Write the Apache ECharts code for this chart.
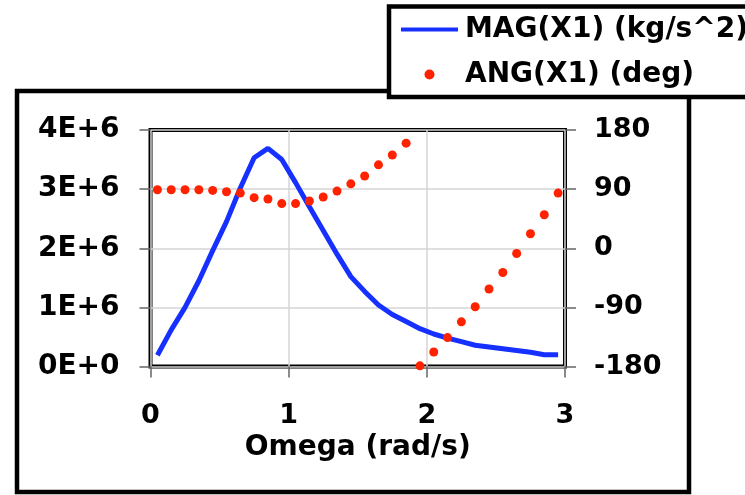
<!DOCTYPE html>
<html>
<head>
<meta charset="utf-8">
<script src="https://cdn.jsdelivr.net/npm/echarts@6/dist/echarts.min.js"></script>
<style>
  html, body { margin: 0; padding: 0; background: #fff; }
  #chart { width: 745px; height: 495px; }
</style>
</head>
<body>
<div id="chart"></div>
<script>
// Frequency response of X1: magnitude (left axis) and phase angle (right axis)
const omega = [0.05, 0.15, 0.25, 0.35, 0.45, 0.55, 0.65, 0.75, 0.85, 0.95,
               1.05, 1.15, 1.25, 1.35, 1.45, 1.55, 1.65, 1.75, 1.85, 1.95,
               2.05, 2.15, 2.25, 2.35, 2.45, 2.55, 2.65, 2.75, 2.85, 2.95];
const magX1 = [0.19e6, 0.62e6, 1.00e6, 1.45e6, 1.96e6, 2.45e6, 3.02e6, 3.53e6, 3.69e6, 3.50e6,
               3.11e6, 2.70e6, 2.30e6, 1.90e6, 1.52e6, 1.27e6, 1.04e6, 0.88e6, 0.76e6, 0.64e6,
               0.55e6, 0.48e6, 0.42e6, 0.36e6, 0.33e6, 0.30e6, 0.27e6, 0.24e6, 0.20e6, 0.20e6];
const angX1 = [89, 89, 89, 89, 88, 86, 84, 77, 75, 68,
               68, 72, 78, 87, 98, 110, 127, 142, 160, -179,
               -158, -136, -112, -89, -62, -37, -8, 22, 51, 84];
const magTickLabels = ['0E+0', '1E+6', '2E+6', '3E+6', '4E+6'];
const angTickLabels = ['-180', '-90', '0', '90', '180'];
const seriesNames = ['MAG(X1) (kg/s^2)', 'ANG(X1) (deg)'];
const xAxisTitle = 'Omega (rad/s)';

const FONT = 'DejaVu Sans';
const MAG_COLOR = '#1530ff';
const ANG_COLOR = '#ff2200';
const labelStyle = { fontFamily: FONT, fontWeight: 'bold', fontSize: 27, color: '#000' };
const tickStyle = { show: true, length: 11, lineStyle: { color: '#666', width: 1.5 } };
const gridLine = { show: true, lineStyle: { color: '#d4d4d4', width: 1.5 } };

const chart = echarts.init(document.getElementById('chart'), null, { renderer: 'canvas' });

chart.setOption({
  animation: false,
  backgroundColor: '#fff',
  grid: {
    left: 150.5, top: 130, right: 180, bottom: 128.5,
    show: true, borderColor: '#000', borderWidth: 4, backgroundColor: 'transparent'
  },
  graphic: [
    {
      // outer chart frame
      type: 'rect', z: 0, silent: true,
      shape: { x: 17, y: 91, width: 672, height: 401 },
      style: { fill: 'none', stroke: '#000', lineWidth: 4.5 }
    },
    {
      // legend box, drawn over the frame
      type: 'rect', z: 3, silent: true,
      shape: { x: 389, y: 6.5, width: 420, height: 90.5 },
      style: { fill: '#fff', stroke: '#000', lineWidth: 4.5 }
    }
  ],
  legend: {
    z: 6,
    orient: 'vertical',
    left: 401, top: 15.5,
    itemWidth: 57, itemHeight: 10, itemGap: 17,
    padding: 0,
    textStyle: { fontFamily: FONT, fontWeight: 'bold', fontSize: 28, lineHeight: 28, color: '#000', padding: [0, 0, 0, 2] },
    data: [
      { name: seriesNames[0], icon: 'path://M0,0H57V4H0Z', itemStyle: { color: MAG_COLOR } },
      { name: seriesNames[1], icon: 'circle', itemStyle: { color: ANG_COLOR, opacity: 1 } }
    ]
  },
  xAxis: {
    type: 'value', min: 0, max: 3, interval: 1,
    name: xAxisTitle, nameLocation: 'middle', nameGap: 67,
    nameTextStyle: { fontFamily: FONT, fontWeight: 'bold', fontSize: 28, color: '#000' },
    axisLine: { show: false },
    axisTick: tickStyle,
    axisLabel: Object.assign({ margin: 36 }, labelStyle),
    splitLine: gridLine
  },
  yAxis: [
    {
      type: 'value', position: 'left', min: 0, max: 4e6, interval: 1e6,
      axisLine: { show: false },
      axisTick: tickStyle,
      axisLabel: Object.assign({}, labelStyle, {
        fontSize: 28,
        margin: 31,
        formatter: v => magTickLabels[Math.round(v / 1e6)]
      }),
      splitLine: gridLine
    },
    {
      type: 'value', position: 'right', min: -180, max: 180, interval: 90,
      axisLine: { show: false },
      axisTick: tickStyle,
      axisLabel: Object.assign({
        margin: 29,
        formatter: v => angTickLabels[Math.round((v + 180) / 90)]
      }, labelStyle),
      splitLine: { show: false }
    }
  ],
  series: [
    {
      name: seriesNames[0], type: 'line', yAxisIndex: 0,
      symbol: 'none', smooth: false,
      lineStyle: { color: MAG_COLOR, width: 5 },
      itemStyle: { color: MAG_COLOR },
      data: omega.map((w, i) => [w, magX1[i]]),
      z: 3
    },
    {
      name: seriesNames[1], type: 'scatter', yAxisIndex: 1,
      symbol: 'circle', symbolSize: 9,
      itemStyle: { color: ANG_COLOR, opacity: 1 },
      data: omega.map((w, i) => [w, angX1[i]]),
      clip: false,
      z: 4
    }
  ]
});
</script>
</body>
</html>
